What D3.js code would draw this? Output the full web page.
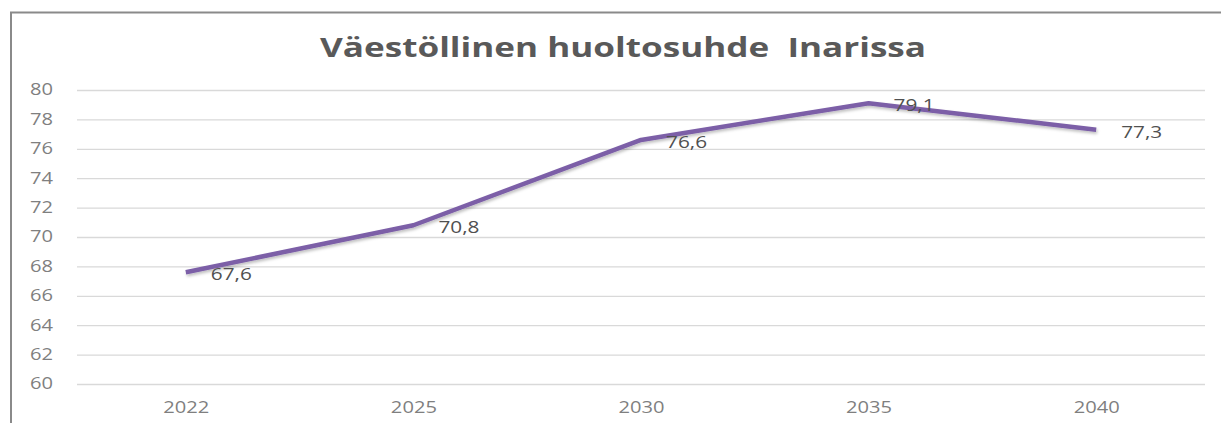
<!DOCTYPE html>
<html><head><meta charset="utf-8">
<script src="https://cdn.jsdelivr.net/npm/d3@7"></script>
<style>
html,body{margin:0;padding:0;background:#fff;overflow:hidden;}
svg{display:block;}
</style></head>
<body>
<svg id="c" width="1221" height="423"></svg>
<script>
const years = ["2022","2025","2030","2035","2040"];
const values = [67.6, 70.8, 76.6, 79.1, 77.3];
const labels = ["67,6","70,8","76,6","79,1","77,3"];
const yTicks = [60,62,64,66,68,70,72,74,76,78,80];
const title = "Väestöllinen huoltosuhde  Inarissa";

const svg = d3.select("#c");
const font = "'Open Sans', 'DejaVu Sans', sans-serif";
const SX = 1.3; // horizontal stretch of the original picture's text

function stretch(sel){
  sel.each(function(){
    const t = d3.select(this);
    const xx = +t.attr("x") || 0, yy = +t.attr("y") || 0;
    t.attr("x",0).attr("y",0).attr("transform",`translate(${xx},${yy}) scale(${SX},1)`);
  });
}

// frame
svg.append("rect").attr("x",11).attr("y",12.5).attr("width",1230).attr("height",430)
  .attr("fill","#fff").attr("stroke","#8a8a8a").attr("stroke-width",2);

const gridL = 77, gridR = 1205, pTop = 90, pBottom = 384;
const x = d3.scalePoint().domain(years).range([72, 1210]).padding(0.5);
const y = d3.scaleLinear().domain([60,80]).range([pBottom, pTop]);

svg.append("text").attr("x",623).attr("y",57).attr("text-anchor","middle")
  .attr("font-family",font).attr("font-weight","bold").attr("font-size",27)
  .attr("fill","#595959").style("white-space","pre").text(title).call(stretch);

const yAxis = d3.axisLeft(y).tickValues(yTicks).tickSize(-(gridR-gridL)).tickPadding(24).tickFormat(d3.format("d"));
const gy = svg.append("g").attr("transform",`translate(${gridL},0)`).call(yAxis);
gy.select(".domain").remove();
gy.selectAll(".tick line").attr("stroke","#d9d9d9").attr("stroke-width",1.3);
gy.selectAll(".tick text").attr("font-family",font).attr("font-size",15.5).attr("fill","#7f7f7f").call(stretch);

const xAxis = d3.axisBottom(x).tickSize(0).tickPadding(18);
const gx = svg.append("g").attr("transform",`translate(0,${pBottom})`).call(xAxis);
gx.select(".domain").remove();
gx.selectAll(".tick text").attr("font-family",font).attr("font-size",15.5).attr("fill","#7f7f7f").call(stretch);

const defs = svg.append("defs");
const f = defs.append("filter").attr("id","sh").attr("x","-10%").attr("y","-50%").attr("width","120%").attr("height","200%");
f.append("feDropShadow").attr("dx",1).attr("dy",2).attr("stdDeviation",1.5).attr("flood-color","#000").attr("flood-opacity",0.25);

const line = d3.line().x((d,i)=>x(years[i])).y(d=>y(d));
svg.append("path").datum(values).attr("d",line).attr("fill","none")
  .attr("stroke","#7b5ea7").attr("stroke-width",4.5).attr("stroke-linejoin","round")
  .attr("filter","url(#sh)");

svg.append("g").selectAll("text").data(values).join("text")
  .attr("x",(d,i)=>x(years[i])+25).attr("y",d=>y(d)+8)
  .attr("font-family",font).attr("font-size",16).attr("fill","#505050")
  .text((d,i)=>labels[i]).call(stretch);
</script>
</body></html>
